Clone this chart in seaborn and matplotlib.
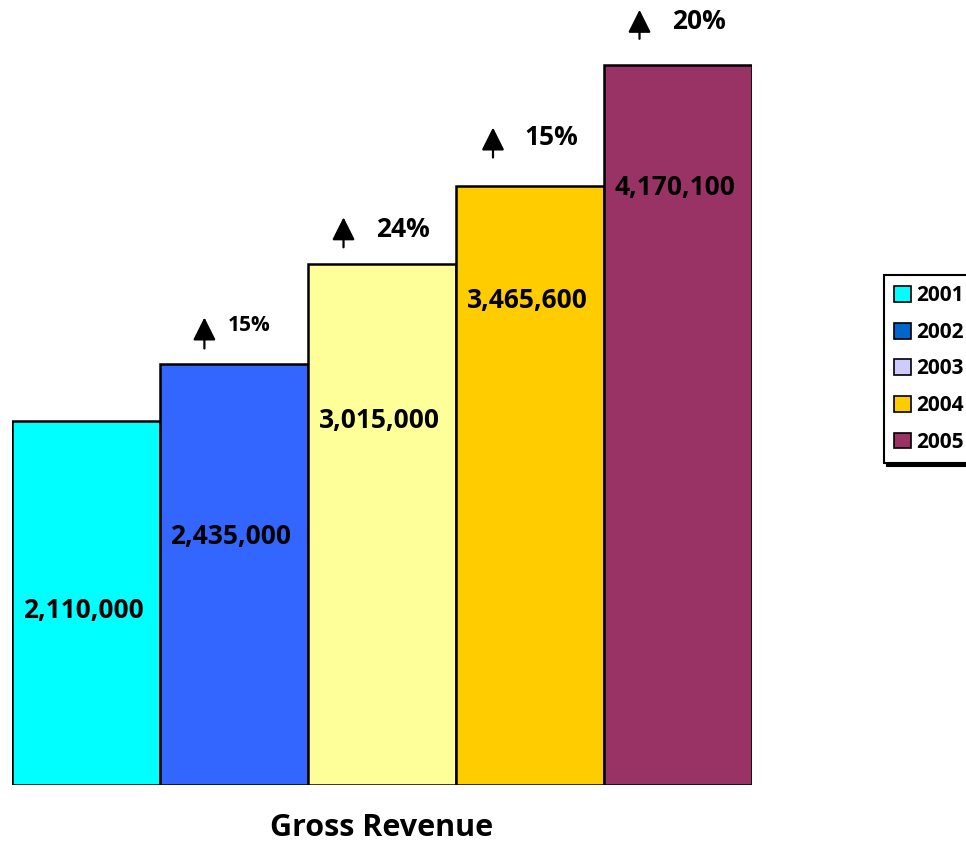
import numpy as np
import pandas as pd
import matplotlib
matplotlib.use('Agg')
from matplotlib import pyplot as plt
from matplotlib.patches import Patch
import seaborn as sns

# data
years = ['2001', '2002', '2003', '2004', '2005']
revenue = [2110000, 2435000, 3015000, 3465600, 4170100]
growth = ['', '15%', '24%', '15%', '20%']
bar_colors = ['#00FFFF', '#3366FF', '#FFFF99', '#FFCC00', '#993366']
legend_colors = ['#00FFFF', '#0066CC', '#CCCCFF', '#FFCC00', '#993366']

# where the value label sits inside each bar (fraction of bar height)
label_frac = [0.48, 0.59, 0.70, 0.81, 0.83]
# arrow gaps above the bar top (pixels): tail, tip
arrow_gap = [(0, 0), (16, 47), (17, 47), (29, 59), (26, 55)]
arrow_dx = [0, -0.2, -0.26, -0.25, -0.26]
text_gap = [0, 39, 35, 49, 43]
text_size = [0, 15, 19, 19, 19]

sns.set_style('white')
plt.rcParams['font.family'] = ['Open Sans', 'DejaVu Sans']
plt.rcParams['text.color'] = 'black'
plt.rcParams['axes.labelcolor'] = 'black'

df = pd.DataFrame({'year': years, 'revenue': revenue})

fig = plt.figure(figsize=(9.66, 8.48), dpi=100)
ax = fig.add_axes([12 / 966, 63 / 848, 740 / 966, 785 / 848])

sns.barplot(data=df, x='year', y='revenue', hue='year', palette=bar_colors,
            width=1.0, edgecolor='black', linewidth=1.8, legend=False, ax=ax,
            saturation=1)

ymax = 785 / 172.7 * 1e6
ax.set_ylim(0, ymax)
ax.set_xlim(-0.5, 4.5)
px = ymax / 785  # data units per pixel

for i, v in enumerate(revenue):
    ax.text(i - 0.02, v * label_frac[i], f'{v:,}', ha='center', va='center',
            fontsize=19, fontweight='bold', color='black')
    if growth[i]:
        tail, tip = arrow_gap[i]
        ax.annotate('', xy=(i + arrow_dx[i], v + tip * px), xytext=(i + arrow_dx[i], v + tail * px),
                    arrowprops=dict(arrowstyle='-|>,head_length=1.0,head_width=0.5',
                                    mutation_scale=14, lw=1.6, color='black',
                                    shrinkA=0, shrinkB=0))
        ax.text(i - 0.04, v + text_gap[i] * px, growth[i], ha='left', va='center',
                fontsize=text_size[i], fontweight='bold', color='black')

ax.set_xticks([])
ax.set_yticks([])
ax.set_xlabel('Gross Revenue', fontsize=22, fontweight='bold', labelpad=20, color='black')
ax.set_ylabel('')
for s in ax.spines.values():
    s.set_visible(False)

handles = [Patch(facecolor=c, edgecolor='black', linewidth=1.2) for c in legend_colors]
leg = fig.legend(handles, years, loc='center left', bbox_to_anchor=(884 / 966, 1 - 369 / 848),
                 frameon=True, fancybox=False, shadow={'color': 'black', 'alpha': 1},
                 prop={'size': 15, 'weight': 'bold'},
                 handlelength=0.8, handleheight=0.8, handletextpad=0.25, labelspacing=0.75,
                 borderpad=0.5, borderaxespad=0)
for t in leg.get_texts():
    t.set_color('black')
leg.get_frame().set_edgecolor('black')
leg.get_frame().set_linewidth(1.5)

fig.savefig('out.png', dpi=100)
